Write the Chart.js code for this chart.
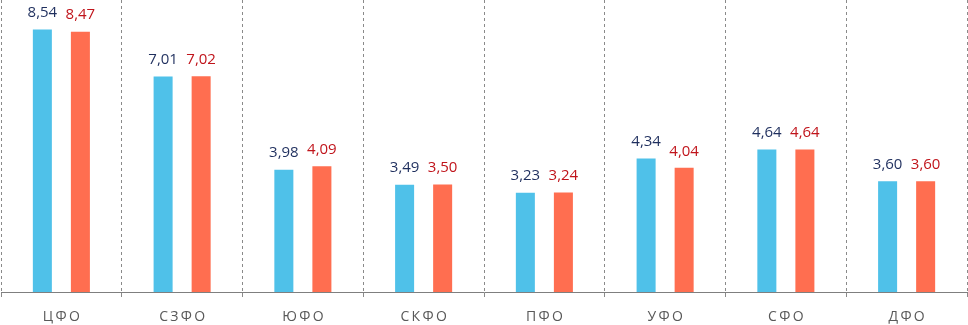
<!DOCTYPE html>
<html>
<head>
<meta charset="utf-8">
<script src="https://cdn.jsdelivr.net/npm/chart.js@4.4.1/dist/chart.umd.min.js"></script>
<style>
    html, body { margin: 0; padding: 0; background: #fff; }
    #wrap { width: 968px; height: 325px; position: relative; }
</style>
</head>
<body>
<div id="wrap"><canvas id="chart"></canvas></div>
<script>
// Федеральные округа
const categories = ['Ц\u2009Ф\u2009О', 'С\u2009З\u2009Ф\u2009О', 'Ю\u2009Ф\u2009О', 'С\u2009К\u2009Ф\u2009О', 'П\u2009Ф\u2009О', 'У\u2009Ф\u2009О', 'С\u2009Ф\u2009О', 'Д\u2009Ф\u2009О'];
const seriesA = [8.54, 7.01, 3.98, 3.49, 3.23, 4.34, 4.64, 3.60];
const seriesB = [8.47, 7.02, 4.09, 3.50, 3.24, 4.04, 4.64, 3.60];

const colorA = '#4FC1E9';
const colorB = '#FF6E50';
const labelColorA = '#1F2F5E';
const labelColorB = '#C0141B';

// Подписи значений над столбцами
const valueLabels = {
    id: 'valueLabels',
    afterDatasetsDraw: (chart) => {
        const ctx = chart.ctx;
        ctx.save();
        ctx.font = '15px "Open Sans", sans-serif';
        ctx.textAlign = 'center';
        ctx.textBaseline = 'bottom';
        chart.data.datasets.forEach((ds, i) => {
            const meta = chart.getDatasetMeta(i);
            ctx.fillStyle = ds.labelColor;
            meta.data.forEach((bar, j) => {
                const text = ds.data[j].toFixed(2).replace('.', ',');
                ctx.fillText(text, bar.x, bar.y - 9);
            });
        });
        ctx.restore();
    }
};

const config = {
    type: 'bar',
    data: {
        labels: categories,
        datasets: [
            { data: seriesA, backgroundColor: colorA, labelColor: labelColorA },
            { data: seriesB, backgroundColor: colorB, labelColor: labelColorB }
        ]
    },
    options: {
        responsive: true,
        maintainAspectRatio: false,
        animation: false,
        layout: { padding: { left: 1, right: 1, top: 0, bottom: -12 } },
        datasets: {
            bar: { categoryPercentage: 0.63, barPercentage: 0.5 }
        },
        plugins: {
            legend: { display: false },
            tooltip: { enabled: false }
        },
        scales: {
            x: {
                grid: {
                    offset: true,
                    color: '#8a8a8a',
                    lineWidth: 1,
                    tickLength: 5
                },
                // пунктир для вертикальных разделителей
                border: { display: true, color: '#7f7f7f', width: 1, dash: [3, 3] },
                ticks: {
                    color: '#595959',
                    font: { family: '"Open Sans", sans-serif', size: 14, lineHeight: 1 },
                    padding: 13
                }
            },
            y: {
                display: false,
                min: 0,
                max: 9.5
            }
        }
    },
    plugins: [valueLabels]
};

new Chart(document.getElementById('chart'), config);
</script>
</body>
</html>
